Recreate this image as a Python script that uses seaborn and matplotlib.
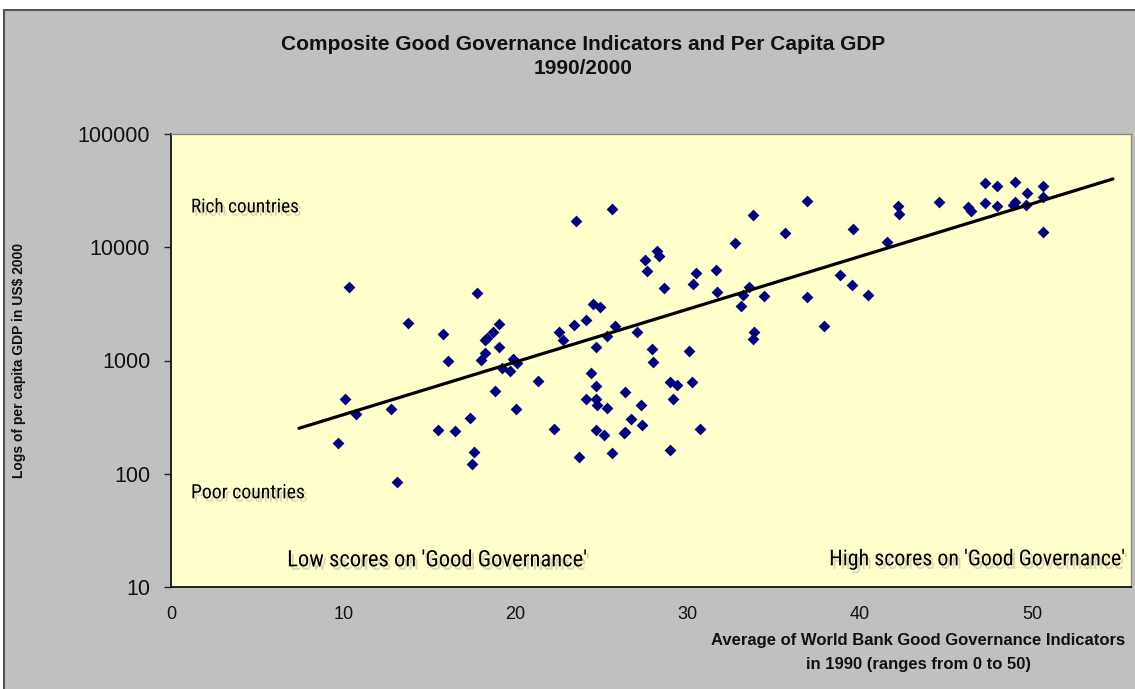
import matplotlib
matplotlib.use('Agg')
import matplotlib.pyplot as plt
import seaborn as sns
import numpy as np
import pandas as pd
from matplotlib import patheffects as pe
from matplotlib import font_manager as fm
from matplotlib.patches import Rectangle

# ---------------- data ----------------
governance = [10.34, 13.76, 10.09, 10.74, 12.76, 9.70, 13.12,
              25.61, 23.50, 27.53, 27.66, 17.79, 24.51, 24.91, 15.81, 19.05,
              18.72, 18.33, 18.21, 22.51, 23.40, 24.08, 22.76, 25.80, 25.34,
              27.04, 19.03, 18.22, 17.98, 16.10, 19.88, 20.08, 19.22, 19.70,
              24.66, 27.93, 28.01, 21.29, 18.82, 24.39, 24.66, 24.08, 24.68,
              24.72, 25.32, 26.38, 27.28, 20.03, 17.38, 26.70, 27.37, 15.52,
              16.49, 22.24, 24.66, 25.14, 26.38, 26.28, 17.60, 17.46, 23.68,
              25.63,
              36.92, 33.78, 35.66, 39.59, 32.77, 28.21, 28.36, 30.49, 31.63,
              30.33, 31.69, 28.61, 33.55, 33.23, 34.44, 33.12, 36.92, 38.85,
              39.55, 40.49, 37.90, 33.86, 33.78, 30.08, 28.98, 29.37, 30.26,
              29.17, 30.72, 29.00,
              47.27, 47.95, 49.01, 50.66, 49.69, 50.66, 49.01, 48.91, 49.65,
              47.95, 47.27, 46.30, 46.46, 44.58, 42.24, 42.29, 41.56, 50.66]
gdp_per_capita = [4430, 2140, 454, 335, 371, 186, 85,
                  21600, 17100, 7710, 6210, 3950, 3140, 2950, 1710, 2100,
                  1800, 1570, 1530, 1780, 2050, 2290, 1520, 2030, 1660,
                  1800, 1320, 1170, 1010, 984, 1030, 951, 853, 803,
                  1320, 1270, 964, 663, 541, 771, 595, 457, 457,
                  404, 378, 527, 404, 373, 313, 303, 271, 243,
                  240, 247, 243, 220, 235, 229, 157, 121, 140,
                  152,
                  25600, 19200, 13400, 14500, 10800, 9270, 8370, 5930, 6300,
                  4770, 4050, 4340, 4460, 3810, 3730, 3050, 3620, 5650,
                  4670, 3810, 2030, 1800, 1560, 1210, 642, 608, 642,
                  454, 248, 161,
                  36900, 34800, 37700, 34500, 30100, 27600, 24900, 23800, 23800,
                  23000, 24400, 22500, 21000, 25100, 23100, 19600, 11200, 13700]
trend_governance = [7.43, 54.7]
trend_gdp = [252, 40100]

y_ticks = [10, 100, 1000, 10000, 100000]
y_tick_labels = ['10', '100', '1000', '10000', '100000']
x_ticks = [0, 10, 20, 30, 40, 50]
x_tick_labels = ['0', '10', '20', '30', '40', '50']

title_lines = ['Composite Good Governance Indicators and Per Capita GDP', '1990/2000']
x_label_lines = ['Average of World Bank Good Governance Indicators',
                 'in 1990 (ranges from 0 to 50)']
y_label = 'Logs of per capita GDP in US$ 2000'
annotations = ['Rich countries', 'Poor countries',
               "Low scores on 'Good Governance'",
               "High scores on 'Good Governance'"]

df = pd.DataFrame({'gov': governance, 'gdp': gdp_per_capita})
trend = pd.DataFrame({'gov': trend_governance, 'gdp': trend_gdp})

# ---------------- styling ----------------
sns.set_theme(style='white')
plt.rcParams['font.family'] = ['Liberation Sans', 'DejaVu Sans']

# pick a condensed face for the annotations if one is installed
installed = {(f.name, f.stretch) for f in fm.fontManager.ttflist}
names = {n for n, _ in installed}
ann_family = ['Liberation Sans', 'DejaVu Sans']
ann_stretch = 'normal'
for cand in ['Liberation Sans Narrow', 'Roboto Condensed', 'Open Sans Condensed',
             'Noto Sans Condensed', 'DejaVu Sans Condensed']:
    if cand in names:
        ann_family = [cand, 'Liberation Sans', 'DejaVu Sans']
        break
else:
    for n, s in installed:
        if n in ('Noto Sans', 'DejaVu Sans', 'Roboto', 'Open Sans') and \
                str(s) in ('condensed', 'semi-condensed', 'extra-condensed', '75', '62', '87'):
            ann_family = [n, 'DejaVu Sans']
            ann_stretch = 'condensed'
            break

W, H = 1135, 689
fig = plt.figure(figsize=(W / 100, H / 100), dpi=100)
fig.patch.set_facecolor('white')

# chart area (grey box)
fig.add_artist(Rectangle((4 / W, -0.02), 1.05, (H - 10) / H + 0.02,
                         transform=fig.transFigure, facecolor='#C0C0C0',
                         edgecolor='#555555', lw=1.5, zorder=-5))

ax = fig.add_axes([171 / W, 1 - 587 / H, (1131 - 171) / W, (587 - 134) / H])
ax.set_facecolor('#FFFFCC')

sns.scatterplot(data=df, x='gov', y='gdp', ax=ax, marker='D', s=36,
                color='#000080', edgecolor='#000080', linewidth=0, zorder=3)
sns.lineplot(data=trend, x='gov', y='gdp', ax=ax, color='black', lw=2.3,
             zorder=4)

ax.set_yscale('log')
ax.set_ylim(10, 100000)
ax.set_xlim(0, 55.75)
ax.set_yticks(y_ticks, y_tick_labels)
ax.set_xticks(x_ticks, x_tick_labels)
ax.yaxis.set_minor_locator(matplotlib.ticker.NullLocator())
ax.tick_params(axis='y', which='major', left=True, length=5, width=1,
               color='#222222', pad=10, labelsize=15.5, labelcolor='#111111')
ax.tick_params(axis='x', which='major', bottom=False, length=0, pad=14,
               labelsize=13, labelcolor='#111111')
ax.set_xlabel('')
ax.set_ylabel('')

for side in ['left', 'bottom']:
    ax.spines[side].set_color('#111111')
    ax.spines[side].set_linewidth(1.3)
for side in ['top', 'right']:
    ax.spines[side].set_color('#8a8a8a')
    ax.spines[side].set_linewidth(1.0)

shadow = [pe.SimplePatchShadow(offset=(2, -2.5), shadow_rgbFace='#a8a8a8',
                               alpha=0.45), pe.Normal()]
ann_kw = dict(transform=ax.transAxes, family=ann_family, fontstretch=ann_stretch,
              fontsize=18, color='black', path_effects=shadow, zorder=2)
# (x, y, ha, target width as axes fraction)
ann_specs = [(0.0208, 0.838, 'left', 108 / 960),
             (0.0208, 0.208, 'left', 114 / 960),
             (0.121, 0.060, 'left', 300 / 960),
             (0.9917, 0.060, 'right', 296 / 960)]
ann_texts = []
for label, (xa, ya, ha, wfrac) in zip(annotations, ann_specs):
    t = ax.text(xa, ya, label, ha=ha, va='center', **ann_kw)
    ann_texts.append((t, wfrac))

# titles
fig.text(583 / W, 1 - 44 / H, title_lines[0], ha='center', va='center',
         fontsize=15, fontweight='bold', color='#111111')
fig.text(583 / W, 1 - 68 / H, title_lines[1], ha='center', va='center',
         fontsize=15, fontweight='bold', color='#111111')
fig.text(918 / W, 1 - 641 / H, x_label_lines[0], ha='center', va='center',
         fontsize=12, fontweight='bold', color='#111111')
fig.text(918 / W, 1 - 664 / H, x_label_lines[1], ha='center', va='center',
         fontsize=12, fontweight='bold', color='#111111')
fig.text(19 / W, 1 - 360 / H, y_label, ha='center', va='center',
         rotation=90, fontsize=10, fontweight='bold', color='#111111')

# fit annotation sizes to the widths seen in the reference
fig.canvas.draw()
renderer = fig.canvas.get_renderer()
ax_w = ax.get_window_extent(renderer).width
for t, wfrac in ann_texts:
    w = t.get_window_extent(renderer).width
    t.set_fontsize(t.get_fontsize() * wfrac * ax_w / w)

fig.savefig('out.png', dpi=100, facecolor=fig.get_facecolor())
